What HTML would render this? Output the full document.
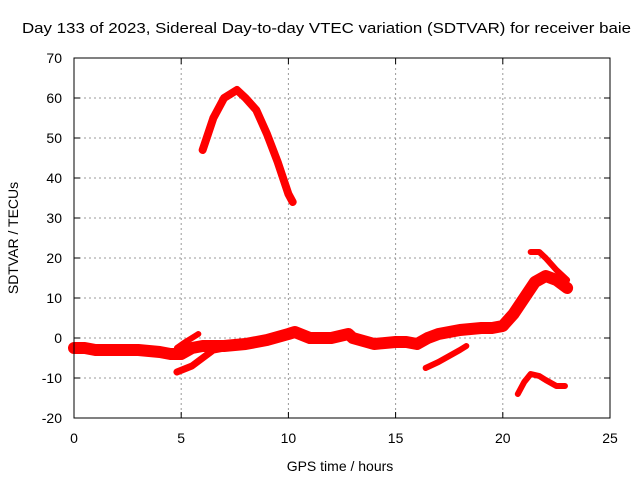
<!DOCTYPE html>
<html><head><meta charset="utf-8"><style>
body{margin:0;background:#fff}
svg{display:block;font-family:"Liberation Sans",sans-serif;font-size:14px}
</style></head><body>
<svg id="c" width="640" height="480">
<text x="22" y="33" textLength="609" lengthAdjust="spacingAndGlyphs" font-size="15">Day 133 of 2023, Sidereal Day-to-day VTEC variation (SDTVAR) for receiver baie</text>
<g id="grid"></g>
<g id="series"></g>
<rect x="74" y="58" width="536" height="360" fill="none" stroke="#000"/>
<g id="axes"></g>
<text x="340" y="471" text-anchor="middle">GPS time / hours</text>
<text transform="translate(18,238) rotate(-90)" text-anchor="middle">SDTVAR / TECUs</text>
</svg>
<script>
const xTicks=[0,5,10,15,20,25];
const yTicks=[-20,-10,0,10,20,30,40,50,60,70];
const mainBand=[[0,-2.5],[0.5,-2.5],[1,-3],[2,-3],[3,-3],[4,-3.5],[4.5,-4],[5,-4],[5.5,-2.5],[6,-2],[7,-2],[8,-1.5],[9,-0.5],[10,1],[10.3,1.5],[11,0],[12,0],[12.8,1],[13,0],[14,-1.5],[15,-1],[15.5,-1],[16,-1.5],[16.5,0],[17,1],[18,2],[19,2.5],[19.5,2.5],[20,3],[20.5,6],[21,10],[21.5,14],[22,15.5],[22.5,14.5],[23,12.5]];
const lowBranch=[[4.8,-8.5],[5.5,-7],[6,-5],[6.5,-3],[7,-2.5],[8,-2],[8.5,-1]];
const spikeBranch=[[4.8,-2.5],[5.2,-1],[5.8,1]];
const peakArc=[[6,47],[6.5,55],[7,60],[7.6,62],[8,60],[8.5,57],[9,51],[9.5,44],[10,36],[10.2,34]];
const midBranch=[[16.4,-7.5],[17,-6],[17.5,-4.5],[18,-3],[18.3,-2]];
const lowArc=[[20.7,-14],[21,-11],[21.3,-9],[21.7,-9.5],[22,-10.5],[22.5,-12],[22.9,-12]];
const highArc=[[21.3,21.5],[21.7,21.5],[22,20],[22.5,17],[23,14.5]];
const sx=h=>74+h*536/25, sy=v=>418-(v+20)*4;
const NS="http://www.w3.org/2000/svg";
const grid=document.getElementById('grid'), axes=document.getElementById('axes'), ser=document.getElementById('series');
function mk(tag,attrs,parent){const e=document.createElementNS(NS,tag);for(const k in attrs)e.setAttribute(k,attrs[k]);parent.appendChild(e);return e;}
xTicks.forEach(t=>{
  if(t>0&&t<25){const g=mk('line',{x1:sx(t),x2:sx(t),y1:58,y2:418,stroke:'#999','stroke-dasharray':'2,3'},grid);
  
  }
  const tk=mk('text',{x:sx(t),y:443,'text-anchor':'middle'},axes);tk.textContent=t;
  
  
  mk('line',{x1:sx(t),x2:sx(t),y1:418,y2:412,stroke:'#000'},axes);
  mk('line',{x1:sx(t),x2:sx(t),y1:58,y2:64,stroke:'#000'},axes);
});
yTicks.forEach(t=>{
  if(t>-20&&t<70){const g=mk('line',{x1:74,x2:610,y1:sy(t),y2:sy(t),stroke:'#999','stroke-dasharray':'2,3'},grid);
  
  }
  const tk=mk('text',{x:62,y:sy(t)+5,'text-anchor':'end'},axes);tk.textContent=t;
  
  
  mk('line',{x1:74,x2:80,y1:sy(t),y2:sy(t),stroke:'#000'},axes);
  mk('line',{x1:610,x2:604,y1:sy(t),y2:sy(t),stroke:'#000'},axes);
});
function draw(arr,w,name){
  const p=mk('polyline',{points:arr.map(d=>sx(d[0])+','+sy(d[1])).join(' '),fill:'none',stroke:'#f00','stroke-width':w,'stroke-linejoin':'round','stroke-linecap':'round'},ser);
  
  
}
draw(mainBand,12,'main-band-series');
draw(lowBranch,7,'low-branch-series');
draw(spikeBranch,6,'spike-branch-series');
draw(peakArc,8,'peak-arc-series');
draw(midBranch,6,'mid-branch-series');
draw(lowArc,6,'low-arc-series');
draw(highArc,6,'high-arc-series');
</script>
</body></html>
